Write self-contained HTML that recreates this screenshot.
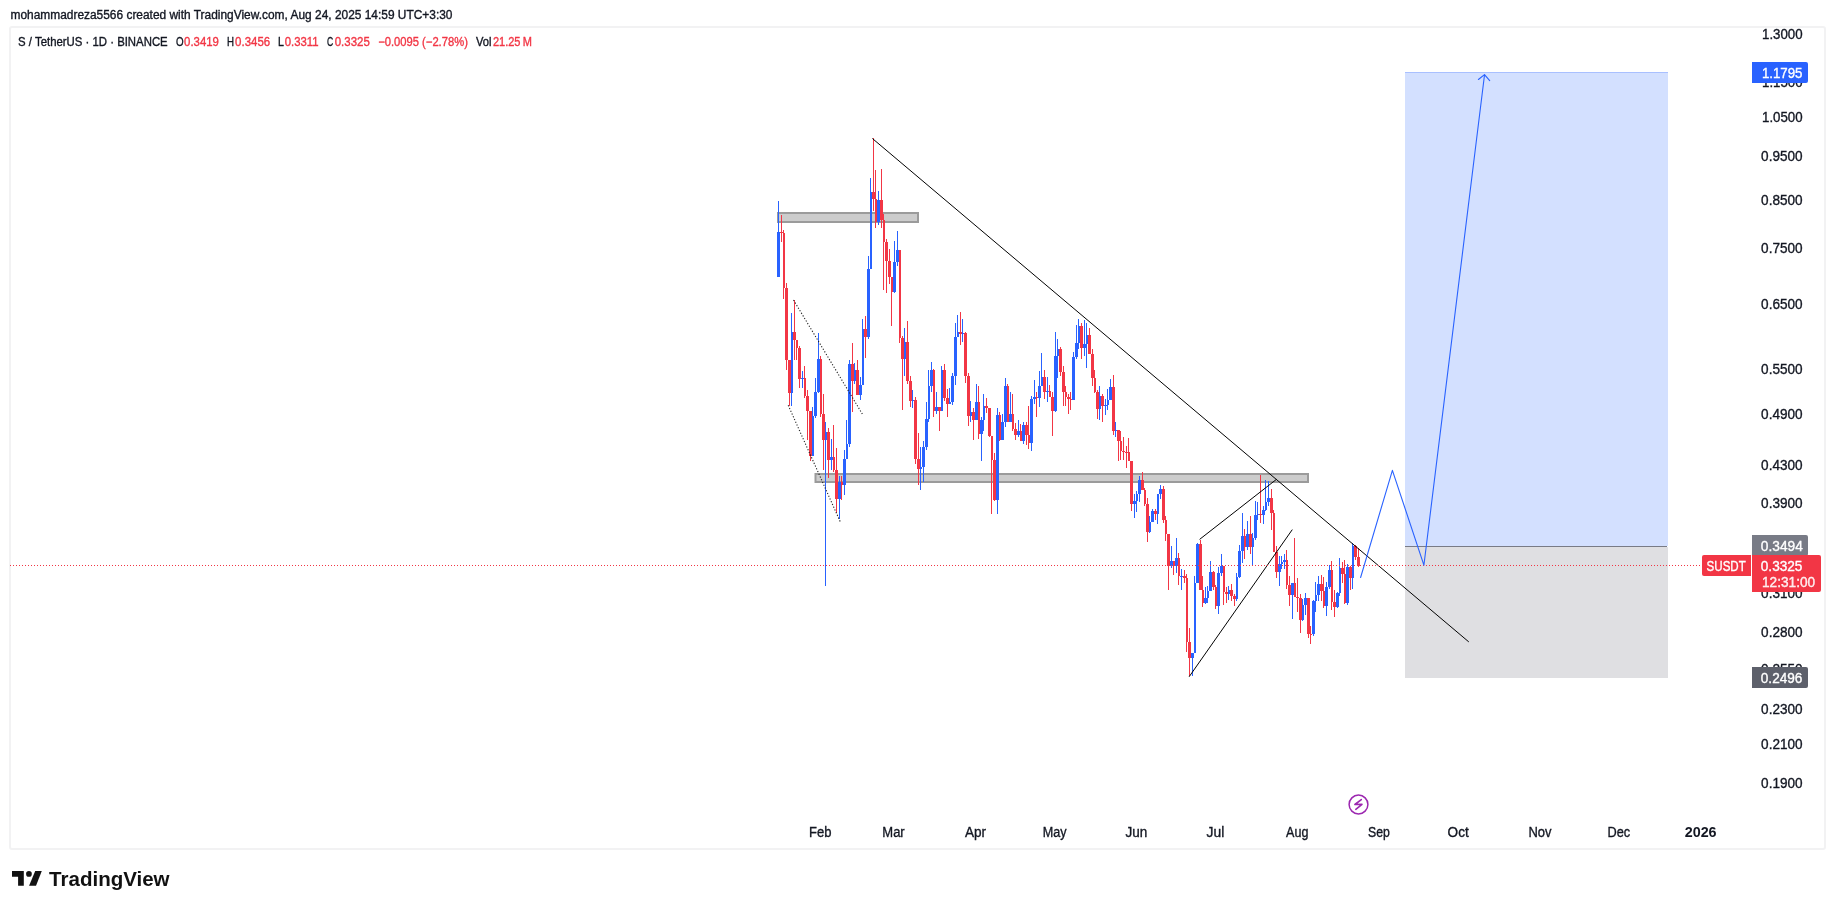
<!DOCTYPE html><html><head><meta charset="utf-8"><style>
html,body{margin:0;padding:0;background:#fff;width:1835px;height:909px;overflow:hidden}
svg{position:absolute;left:0;top:0;display:block;will-change:transform}
text{font-family:"Liberation Sans",sans-serif}
</style></head><body>
<svg width="1835" height="909" viewBox="0 0 1835 909">
<rect x="0" y="0" width="1835" height="909" fill="#ffffff"/>
<rect x="10" y="27" width="1815" height="822" rx="2" fill="none" stroke="#F2F2F3" stroke-width="2"/>
<text x="10.5" y="19" font-size="12" fill="#131722" textLength="442" lengthAdjust="spacingAndGlyphs" stroke="#131722" stroke-width="0.35">mohammadreza5566 created with TradingView.com, Aug 24, 2025 14:59 UTC+3:30</text>
<text x="18.1" y="46" font-size="12" fill="#131722" textLength="149.6" lengthAdjust="spacingAndGlyphs" stroke="#131722" stroke-width="0.35">S / TetherUS · 1D · BINANCE</text>
<text x="176.0" y="46" font-size="12" fill="#131722" textLength="7.6" lengthAdjust="spacingAndGlyphs" stroke="#131722" stroke-width="0.35">O</text>
<text x="184.1" y="46" font-size="12" fill="#F23645" textLength="34.8" lengthAdjust="spacingAndGlyphs" stroke="#F23645" stroke-width="0.35">0.3419</text>
<text x="227.0" y="46" font-size="12" fill="#131722" textLength="7.0" lengthAdjust="spacingAndGlyphs" stroke="#131722" stroke-width="0.35">H</text>
<text x="235.1" y="46" font-size="12" fill="#F23645" textLength="35.1" lengthAdjust="spacingAndGlyphs" stroke="#F23645" stroke-width="0.35">0.3456</text>
<text x="278.1" y="46" font-size="12" fill="#131722" textLength="5.9" lengthAdjust="spacingAndGlyphs" stroke="#131722" stroke-width="0.35">L</text>
<text x="284.7" y="46" font-size="12" fill="#F23645" textLength="33.9" lengthAdjust="spacingAndGlyphs" stroke="#F23645" stroke-width="0.35">0.3311</text>
<text x="327.1" y="46" font-size="12" fill="#131722" textLength="6.2" lengthAdjust="spacingAndGlyphs" stroke="#131722" stroke-width="0.35">C</text>
<text x="334.7" y="46" font-size="12" fill="#F23645" textLength="35.1" lengthAdjust="spacingAndGlyphs" stroke="#F23645" stroke-width="0.35">0.3325</text>
<text x="378.2" y="46" font-size="12" fill="#F23645" textLength="89.7" lengthAdjust="spacingAndGlyphs" stroke="#F23645" stroke-width="0.35">−0.0095 (−2.78%)</text>
<text x="476.0" y="46" font-size="12" fill="#131722" textLength="15.5" lengthAdjust="spacingAndGlyphs" stroke="#131722" stroke-width="0.35">Vol</text>
<text x="492.9" y="46" font-size="12" fill="#F23645" textLength="39.0" lengthAdjust="spacingAndGlyphs" stroke="#F23645" stroke-width="0.35">21.25 M</text>
<rect x="1405" y="72" width="263" height="474" fill="#D3E0FF"/>
<rect x="1405" y="72" width="263" height="1" fill="#A9C0FF"/>
<rect x="1405" y="547" width="263" height="131" fill="#DFDFE2"/>
<rect x="1405" y="546" width="262" height="1" fill="#787B86"/>
<rect x="778" y="213" width="140" height="9" fill="#CCCCCC" stroke="#9B9B9B" stroke-width="2"/>
<rect x="815.5" y="474" width="492.5" height="8" fill="#CCCCCC" stroke="#9B9B9B" stroke-width="2"/>
<g shape-rendering="crispEdges"><rect x="778" y="201" width="1" height="76" fill="#2962FF"/><rect x="777" y="232" width="3" height="45" fill="#2962FF"/><rect x="781" y="215" width="1" height="27" fill="#F23645"/><rect x="780" y="232" width="3" height="1" fill="#F23645"/><rect x="783" y="230" width="1" height="69" fill="#F23645"/><rect x="783" y="233" width="2" height="55" fill="#F23645"/><rect x="786" y="283" width="1" height="87" fill="#F23645"/><rect x="785" y="288" width="3" height="72" fill="#F23645"/><rect x="789" y="360" width="1" height="46" fill="#F23645"/><rect x="788" y="360" width="3" height="33" fill="#F23645"/><rect x="791" y="313" width="1" height="93" fill="#2962FF"/><rect x="791" y="332" width="2" height="61" fill="#2962FF"/><rect x="794" y="300" width="1" height="60" fill="#F23645"/><rect x="793" y="332" width="3" height="8" fill="#F23645"/><rect x="796" y="340" width="1" height="20" fill="#F23645"/><rect x="796" y="340" width="2" height="8" fill="#F23645"/><rect x="799" y="346" width="1" height="42" fill="#F23645"/><rect x="798" y="348" width="3" height="31" fill="#F23645"/><rect x="802" y="371" width="1" height="17" fill="#2962FF"/><rect x="801" y="378" width="3" height="1" fill="#2962FF"/><rect x="804" y="366" width="1" height="32" fill="#F23645"/><rect x="804" y="378" width="2" height="18" fill="#F23645"/><rect x="807" y="390" width="1" height="50" fill="#F23645"/><rect x="806" y="396" width="3" height="15" fill="#F23645"/><rect x="810" y="411" width="1" height="50" fill="#F23645"/><rect x="809" y="411" width="3" height="45" fill="#F23645"/><rect x="812" y="407" width="1" height="49" fill="#2962FF"/><rect x="812" y="416" width="2" height="40" fill="#2962FF"/><rect x="815" y="378" width="1" height="40" fill="#2962FF"/><rect x="814" y="392" width="3" height="24" fill="#2962FF"/><rect x="818" y="333" width="1" height="60" fill="#2962FF"/><rect x="817" y="359" width="3" height="33" fill="#2962FF"/><rect x="820" y="356" width="1" height="61" fill="#F23645"/><rect x="820" y="359" width="2" height="55" fill="#F23645"/><rect x="823" y="394" width="1" height="76" fill="#F23645"/><rect x="822" y="414" width="3" height="26" fill="#F23645"/><rect x="825" y="422" width="1" height="164" fill="#2962FF"/><rect x="825" y="432" width="2" height="8" fill="#2962FF"/><rect x="828" y="428" width="1" height="50" fill="#F23645"/><rect x="827" y="432" width="3" height="28" fill="#F23645"/><rect x="831" y="439" width="1" height="31" fill="#2962FF"/><rect x="830" y="457" width="3" height="3" fill="#2962FF"/><rect x="833" y="425" width="1" height="47" fill="#F23645"/><rect x="833" y="457" width="2" height="13" fill="#F23645"/><rect x="836" y="448" width="1" height="65" fill="#F23645"/><rect x="835" y="470" width="3" height="29" fill="#F23645"/><rect x="839" y="476" width="1" height="43" fill="#2962FF"/><rect x="838" y="482" width="3" height="17" fill="#2962FF"/><rect x="841" y="476" width="1" height="24" fill="#F23645"/><rect x="841" y="482" width="2" height="3" fill="#F23645"/><rect x="844" y="450" width="1" height="45" fill="#2962FF"/><rect x="843" y="459" width="3" height="26" fill="#2962FF"/><rect x="846" y="420" width="1" height="39" fill="#2962FF"/><rect x="846" y="444" width="2" height="15" fill="#2962FF"/><rect x="849" y="360" width="1" height="87" fill="#2962FF"/><rect x="848" y="364" width="3" height="80" fill="#2962FF"/><rect x="852" y="343" width="1" height="69" fill="#F23645"/><rect x="851" y="364" width="3" height="17" fill="#F23645"/><rect x="854" y="363" width="1" height="21" fill="#2962FF"/><rect x="854" y="370" width="2" height="11" fill="#2962FF"/><rect x="857" y="360" width="1" height="35" fill="#F23645"/><rect x="856" y="370" width="3" height="25" fill="#F23645"/><rect x="860" y="377" width="1" height="23" fill="#2962FF"/><rect x="859" y="385" width="3" height="10" fill="#2962FF"/><rect x="862" y="319" width="1" height="66" fill="#2962FF"/><rect x="862" y="329" width="2" height="56" fill="#2962FF"/><rect x="865" y="316" width="1" height="42" fill="#F23645"/><rect x="864" y="329" width="3" height="8" fill="#F23645"/><rect x="868" y="256" width="1" height="83" fill="#2962FF"/><rect x="867" y="269" width="3" height="68" fill="#2962FF"/><rect x="870" y="178" width="1" height="91" fill="#2962FF"/><rect x="870" y="192" width="2" height="77" fill="#2962FF"/><rect x="873" y="138" width="1" height="73" fill="#F23645"/><rect x="872" y="192" width="3" height="7" fill="#F23645"/><rect x="875" y="170" width="1" height="58" fill="#F23645"/><rect x="875" y="199" width="2" height="23" fill="#F23645"/><rect x="878" y="191" width="1" height="34" fill="#2962FF"/><rect x="877" y="200" width="3" height="22" fill="#2962FF"/><rect x="881" y="169" width="1" height="59" fill="#F23645"/><rect x="880" y="200" width="3" height="20" fill="#F23645"/><rect x="883" y="214" width="1" height="76" fill="#F23645"/><rect x="883" y="220" width="2" height="22" fill="#F23645"/><rect x="886" y="239" width="1" height="54" fill="#F23645"/><rect x="885" y="242" width="3" height="19" fill="#F23645"/><rect x="889" y="249" width="1" height="35" fill="#F23645"/><rect x="888" y="261" width="3" height="16" fill="#F23645"/><rect x="891" y="277" width="1" height="49" fill="#F23645"/><rect x="891" y="277" width="2" height="15" fill="#F23645"/><rect x="894" y="241" width="1" height="52" fill="#2962FF"/><rect x="893" y="262" width="3" height="30" fill="#2962FF"/><rect x="897" y="231" width="1" height="35" fill="#2962FF"/><rect x="896" y="250" width="3" height="12" fill="#2962FF"/><rect x="899" y="250" width="1" height="93" fill="#F23645"/><rect x="899" y="250" width="2" height="88" fill="#F23645"/><rect x="902" y="336" width="1" height="74" fill="#F23645"/><rect x="901" y="338" width="3" height="21" fill="#F23645"/><rect x="904" y="328" width="1" height="48" fill="#2962FF"/><rect x="904" y="342" width="2" height="17" fill="#2962FF"/><rect x="907" y="321" width="1" height="63" fill="#F23645"/><rect x="906" y="342" width="3" height="39" fill="#F23645"/><rect x="910" y="376" width="1" height="31" fill="#F23645"/><rect x="909" y="381" width="3" height="20" fill="#F23645"/><rect x="912" y="390" width="1" height="18" fill="#2962FF"/><rect x="912" y="400" width="2" height="1" fill="#2962FF"/><rect x="915" y="397" width="1" height="67" fill="#F23645"/><rect x="914" y="400" width="3" height="59" fill="#F23645"/><rect x="918" y="433" width="1" height="52" fill="#F23645"/><rect x="917" y="459" width="3" height="10" fill="#F23645"/><rect x="920" y="447" width="1" height="43" fill="#2962FF"/><rect x="920" y="467" width="2" height="2" fill="#2962FF"/><rect x="923" y="441" width="1" height="41" fill="#2962FF"/><rect x="922" y="447" width="3" height="20" fill="#2962FF"/><rect x="926" y="402" width="1" height="48" fill="#2962FF"/><rect x="925" y="419" width="3" height="28" fill="#2962FF"/><rect x="928" y="370" width="1" height="52" fill="#2962FF"/><rect x="928" y="386" width="2" height="33" fill="#2962FF"/><rect x="931" y="362" width="1" height="30" fill="#2962FF"/><rect x="930" y="370" width="3" height="16" fill="#2962FF"/><rect x="933" y="369" width="1" height="48" fill="#F23645"/><rect x="933" y="370" width="2" height="41" fill="#F23645"/><rect x="936" y="392" width="1" height="22" fill="#2962FF"/><rect x="935" y="407" width="3" height="4" fill="#2962FF"/><rect x="939" y="407" width="1" height="24" fill="#F23645"/><rect x="938" y="407" width="3" height="4" fill="#F23645"/><rect x="941" y="366" width="1" height="45" fill="#2962FF"/><rect x="941" y="370" width="2" height="41" fill="#2962FF"/><rect x="944" y="364" width="1" height="37" fill="#F23645"/><rect x="943" y="370" width="3" height="28" fill="#F23645"/><rect x="947" y="389" width="1" height="28" fill="#F23645"/><rect x="946" y="398" width="3" height="6" fill="#F23645"/><rect x="949" y="388" width="1" height="16" fill="#2962FF"/><rect x="949" y="402" width="2" height="2" fill="#2962FF"/><rect x="952" y="373" width="1" height="32" fill="#2962FF"/><rect x="951" y="376" width="3" height="26" fill="#2962FF"/><rect x="955" y="323" width="1" height="62" fill="#2962FF"/><rect x="954" y="337" width="3" height="39" fill="#2962FF"/><rect x="957" y="315" width="1" height="22" fill="#2962FF"/><rect x="957" y="332" width="2" height="5" fill="#2962FF"/><rect x="960" y="312" width="1" height="33" fill="#F23645"/><rect x="959" y="332" width="3" height="2" fill="#F23645"/><rect x="962" y="319" width="1" height="23" fill="#2962FF"/><rect x="962" y="333" width="2" height="1" fill="#2962FF"/><rect x="965" y="332" width="1" height="51" fill="#F23645"/><rect x="964" y="333" width="3" height="43" fill="#F23645"/><rect x="968" y="373" width="1" height="53" fill="#F23645"/><rect x="967" y="376" width="3" height="40" fill="#F23645"/><rect x="970" y="401" width="1" height="21" fill="#2962FF"/><rect x="970" y="412" width="2" height="4" fill="#2962FF"/><rect x="973" y="408" width="1" height="32" fill="#F23645"/><rect x="972" y="412" width="3" height="8" fill="#F23645"/><rect x="976" y="384" width="1" height="36" fill="#2962FF"/><rect x="975" y="402" width="3" height="18" fill="#2962FF"/><rect x="978" y="386" width="1" height="53" fill="#F23645"/><rect x="978" y="402" width="2" height="32" fill="#F23645"/><rect x="981" y="417" width="1" height="44" fill="#2962FF"/><rect x="980" y="420" width="3" height="14" fill="#2962FF"/><rect x="983" y="394" width="1" height="37" fill="#2962FF"/><rect x="983" y="406" width="2" height="14" fill="#2962FF"/><rect x="986" y="398" width="1" height="15" fill="#F23645"/><rect x="985" y="406" width="3" height="2" fill="#F23645"/><rect x="989" y="408" width="1" height="29" fill="#F23645"/><rect x="988" y="408" width="3" height="28" fill="#F23645"/><rect x="991" y="436" width="1" height="78" fill="#F23645"/><rect x="991" y="436" width="2" height="24" fill="#F23645"/><rect x="994" y="453" width="1" height="48" fill="#F23645"/><rect x="993" y="460" width="3" height="40" fill="#F23645"/><rect x="997" y="408" width="1" height="106" fill="#2962FF"/><rect x="996" y="415" width="3" height="85" fill="#2962FF"/><rect x="999" y="412" width="1" height="29" fill="#F23645"/><rect x="999" y="415" width="2" height="25" fill="#F23645"/><rect x="1002" y="414" width="1" height="26" fill="#2962FF"/><rect x="1001" y="422" width="3" height="18" fill="#2962FF"/><rect x="1005" y="378" width="1" height="49" fill="#2962FF"/><rect x="1004" y="386" width="3" height="36" fill="#2962FF"/><rect x="1007" y="384" width="1" height="38" fill="#F23645"/><rect x="1007" y="386" width="2" height="36" fill="#F23645"/><rect x="1010" y="392" width="1" height="30" fill="#2962FF"/><rect x="1009" y="414" width="3" height="8" fill="#2962FF"/><rect x="1012" y="394" width="1" height="37" fill="#F23645"/><rect x="1012" y="414" width="2" height="15" fill="#F23645"/><rect x="1015" y="423" width="1" height="17" fill="#F23645"/><rect x="1014" y="429" width="3" height="6" fill="#F23645"/><rect x="1018" y="420" width="1" height="17" fill="#2962FF"/><rect x="1017" y="431" width="3" height="4" fill="#2962FF"/><rect x="1020" y="424" width="1" height="17" fill="#F23645"/><rect x="1020" y="431" width="2" height="10" fill="#F23645"/><rect x="1023" y="422" width="1" height="22" fill="#2962FF"/><rect x="1022" y="425" width="3" height="16" fill="#2962FF"/><rect x="1026" y="422" width="1" height="23" fill="#F23645"/><rect x="1025" y="425" width="3" height="10" fill="#F23645"/><rect x="1028" y="406" width="1" height="43" fill="#F23645"/><rect x="1028" y="435" width="2" height="8" fill="#F23645"/><rect x="1031" y="396" width="1" height="55" fill="#2962FF"/><rect x="1030" y="399" width="3" height="44" fill="#2962FF"/><rect x="1034" y="380" width="1" height="24" fill="#2962FF"/><rect x="1033" y="397" width="3" height="2" fill="#2962FF"/><rect x="1036" y="392" width="1" height="25" fill="#F23645"/><rect x="1036" y="397" width="2" height="1" fill="#F23645"/><rect x="1039" y="371" width="1" height="36" fill="#2962FF"/><rect x="1038" y="386" width="3" height="12" fill="#2962FF"/><rect x="1041" y="353" width="1" height="33" fill="#2962FF"/><rect x="1041" y="377" width="2" height="9" fill="#2962FF"/><rect x="1044" y="370" width="1" height="29" fill="#F23645"/><rect x="1043" y="377" width="3" height="15" fill="#F23645"/><rect x="1047" y="377" width="1" height="25" fill="#2962FF"/><rect x="1046" y="391" width="3" height="1" fill="#2962FF"/><rect x="1049" y="385" width="1" height="12" fill="#F23645"/><rect x="1049" y="391" width="2" height="6" fill="#F23645"/><rect x="1052" y="392" width="1" height="44" fill="#F23645"/><rect x="1051" y="397" width="3" height="14" fill="#F23645"/><rect x="1055" y="332" width="1" height="80" fill="#2962FF"/><rect x="1054" y="356" width="3" height="55" fill="#2962FF"/><rect x="1057" y="339" width="1" height="39" fill="#2962FF"/><rect x="1057" y="349" width="2" height="7" fill="#2962FF"/><rect x="1060" y="347" width="1" height="29" fill="#F23645"/><rect x="1059" y="349" width="3" height="23" fill="#F23645"/><rect x="1063" y="366" width="1" height="40" fill="#F23645"/><rect x="1062" y="372" width="3" height="20" fill="#F23645"/><rect x="1065" y="386" width="1" height="20" fill="#F23645"/><rect x="1065" y="392" width="2" height="5" fill="#F23645"/><rect x="1068" y="394" width="1" height="20" fill="#F23645"/><rect x="1067" y="397" width="3" height="2" fill="#F23645"/><rect x="1070" y="392" width="1" height="18" fill="#F23645"/><rect x="1070" y="399" width="2" height="1" fill="#F23645"/><rect x="1073" y="352" width="1" height="48" fill="#2962FF"/><rect x="1072" y="357" width="3" height="43" fill="#2962FF"/><rect x="1076" y="325" width="1" height="34" fill="#2962FF"/><rect x="1075" y="343" width="3" height="14" fill="#2962FF"/><rect x="1078" y="319" width="1" height="30" fill="#2962FF"/><rect x="1078" y="326" width="2" height="17" fill="#2962FF"/><rect x="1081" y="323" width="1" height="36" fill="#F23645"/><rect x="1080" y="326" width="3" height="22" fill="#F23645"/><rect x="1084" y="320" width="1" height="36" fill="#2962FF"/><rect x="1083" y="344" width="3" height="4" fill="#2962FF"/><rect x="1086" y="323" width="1" height="45" fill="#2962FF"/><rect x="1086" y="335" width="2" height="9" fill="#2962FF"/><rect x="1089" y="328" width="1" height="26" fill="#F23645"/><rect x="1088" y="335" width="3" height="19" fill="#F23645"/><rect x="1092" y="349" width="1" height="37" fill="#F23645"/><rect x="1091" y="354" width="3" height="24" fill="#F23645"/><rect x="1094" y="370" width="1" height="23" fill="#F23645"/><rect x="1094" y="378" width="2" height="14" fill="#F23645"/><rect x="1097" y="390" width="1" height="29" fill="#F23645"/><rect x="1096" y="392" width="3" height="17" fill="#F23645"/><rect x="1099" y="386" width="1" height="34" fill="#2962FF"/><rect x="1099" y="396" width="2" height="13" fill="#2962FF"/><rect x="1102" y="394" width="1" height="28" fill="#F23645"/><rect x="1101" y="396" width="3" height="10" fill="#F23645"/><rect x="1105" y="399" width="1" height="16" fill="#2962FF"/><rect x="1104" y="405" width="3" height="1" fill="#2962FF"/><rect x="1107" y="389" width="1" height="21" fill="#2962FF"/><rect x="1107" y="400" width="2" height="5" fill="#2962FF"/><rect x="1110" y="379" width="1" height="21" fill="#2962FF"/><rect x="1109" y="387" width="3" height="13" fill="#2962FF"/><rect x="1113" y="375" width="1" height="60" fill="#F23645"/><rect x="1112" y="387" width="3" height="44" fill="#F23645"/><rect x="1115" y="422" width="1" height="15" fill="#2962FF"/><rect x="1115" y="430" width="2" height="1" fill="#2962FF"/><rect x="1118" y="430" width="1" height="31" fill="#F23645"/><rect x="1117" y="430" width="3" height="11" fill="#F23645"/><rect x="1120" y="431" width="1" height="29" fill="#F23645"/><rect x="1120" y="441" width="2" height="10" fill="#F23645"/><rect x="1123" y="437" width="1" height="23" fill="#F23645"/><rect x="1122" y="451" width="3" height="1" fill="#F23645"/><rect x="1126" y="446" width="1" height="22" fill="#F23645"/><rect x="1125" y="452" width="3" height="1" fill="#F23645"/><rect x="1128" y="438" width="1" height="23" fill="#F23645"/><rect x="1128" y="452" width="2" height="9" fill="#F23645"/><rect x="1131" y="461" width="1" height="50" fill="#F23645"/><rect x="1130" y="461" width="3" height="43" fill="#F23645"/><rect x="1134" y="494" width="1" height="24" fill="#2962FF"/><rect x="1133" y="501" width="3" height="3" fill="#2962FF"/><rect x="1136" y="491" width="1" height="21" fill="#2962FF"/><rect x="1136" y="494" width="2" height="7" fill="#2962FF"/><rect x="1139" y="476" width="1" height="26" fill="#2962FF"/><rect x="1138" y="480" width="3" height="14" fill="#2962FF"/><rect x="1142" y="472" width="1" height="18" fill="#F23645"/><rect x="1141" y="480" width="3" height="10" fill="#F23645"/><rect x="1144" y="488" width="1" height="18" fill="#F23645"/><rect x="1144" y="490" width="2" height="14" fill="#F23645"/><rect x="1147" y="498" width="1" height="44" fill="#F23645"/><rect x="1146" y="504" width="3" height="28" fill="#F23645"/><rect x="1149" y="516" width="1" height="17" fill="#2962FF"/><rect x="1149" y="522" width="2" height="10" fill="#2962FF"/><rect x="1152" y="509" width="1" height="13" fill="#2962FF"/><rect x="1151" y="511" width="3" height="11" fill="#2962FF"/><rect x="1155" y="509" width="1" height="11" fill="#F23645"/><rect x="1154" y="511" width="3" height="3" fill="#F23645"/><rect x="1157" y="494" width="1" height="30" fill="#2962FF"/><rect x="1157" y="494" width="2" height="20" fill="#2962FF"/><rect x="1160" y="485" width="1" height="14" fill="#2962FF"/><rect x="1159" y="489" width="3" height="5" fill="#2962FF"/><rect x="1163" y="486" width="1" height="37" fill="#F23645"/><rect x="1162" y="489" width="3" height="31" fill="#F23645"/><rect x="1165" y="516" width="1" height="25" fill="#F23645"/><rect x="1165" y="520" width="2" height="14" fill="#F23645"/><rect x="1168" y="534" width="1" height="56" fill="#F23645"/><rect x="1167" y="534" width="3" height="32" fill="#F23645"/><rect x="1171" y="546" width="1" height="22" fill="#2962FF"/><rect x="1170" y="561" width="3" height="5" fill="#2962FF"/><rect x="1173" y="561" width="1" height="14" fill="#F23645"/><rect x="1173" y="561" width="2" height="5" fill="#F23645"/><rect x="1176" y="538" width="1" height="35" fill="#2962FF"/><rect x="1175" y="558" width="3" height="8" fill="#2962FF"/><rect x="1178" y="553" width="1" height="32" fill="#F23645"/><rect x="1178" y="558" width="2" height="18" fill="#F23645"/><rect x="1181" y="569" width="1" height="21" fill="#2962FF"/><rect x="1180" y="576" width="3" height="1" fill="#2962FF"/><rect x="1184" y="570" width="1" height="13" fill="#F23645"/><rect x="1183" y="576" width="3" height="2" fill="#F23645"/><rect x="1186" y="574" width="1" height="78" fill="#F23645"/><rect x="1186" y="578" width="2" height="64" fill="#F23645"/><rect x="1189" y="628" width="1" height="48" fill="#F23645"/><rect x="1188" y="642" width="3" height="16" fill="#F23645"/><rect x="1192" y="653" width="1" height="23" fill="#2962FF"/><rect x="1191" y="653" width="3" height="5" fill="#2962FF"/><rect x="1194" y="576" width="1" height="77" fill="#2962FF"/><rect x="1194" y="583" width="2" height="70" fill="#2962FF"/><rect x="1197" y="543" width="1" height="40" fill="#2962FF"/><rect x="1196" y="544" width="3" height="39" fill="#2962FF"/><rect x="1200" y="540" width="1" height="50" fill="#F23645"/><rect x="1199" y="544" width="3" height="46" fill="#F23645"/><rect x="1202" y="576" width="1" height="31" fill="#F23645"/><rect x="1202" y="590" width="2" height="13" fill="#F23645"/><rect x="1205" y="587" width="1" height="17" fill="#2962FF"/><rect x="1204" y="598" width="3" height="5" fill="#2962FF"/><rect x="1207" y="586" width="1" height="17" fill="#2962FF"/><rect x="1207" y="591" width="2" height="7" fill="#2962FF"/><rect x="1210" y="561" width="1" height="30" fill="#2962FF"/><rect x="1209" y="572" width="3" height="19" fill="#2962FF"/><rect x="1213" y="571" width="1" height="19" fill="#F23645"/><rect x="1212" y="572" width="3" height="15" fill="#F23645"/><rect x="1215" y="585" width="1" height="24" fill="#F23645"/><rect x="1215" y="587" width="2" height="19" fill="#F23645"/><rect x="1218" y="567" width="1" height="47" fill="#2962FF"/><rect x="1217" y="573" width="3" height="33" fill="#2962FF"/><rect x="1221" y="554" width="1" height="22" fill="#2962FF"/><rect x="1220" y="566" width="3" height="7" fill="#2962FF"/><rect x="1223" y="566" width="1" height="39" fill="#F23645"/><rect x="1223" y="566" width="2" height="26" fill="#F23645"/><rect x="1226" y="587" width="1" height="16" fill="#F23645"/><rect x="1225" y="592" width="3" height="2" fill="#F23645"/><rect x="1228" y="586" width="1" height="14" fill="#2962FF"/><rect x="1228" y="590" width="2" height="4" fill="#2962FF"/><rect x="1231" y="584" width="1" height="17" fill="#F23645"/><rect x="1230" y="590" width="3" height="6" fill="#F23645"/><rect x="1234" y="594" width="1" height="12" fill="#F23645"/><rect x="1233" y="596" width="3" height="3" fill="#F23645"/><rect x="1236" y="573" width="1" height="28" fill="#2962FF"/><rect x="1236" y="577" width="2" height="22" fill="#2962FF"/><rect x="1239" y="545" width="1" height="33" fill="#2962FF"/><rect x="1238" y="551" width="3" height="26" fill="#2962FF"/><rect x="1242" y="513" width="1" height="50" fill="#2962FF"/><rect x="1241" y="536" width="3" height="15" fill="#2962FF"/><rect x="1244" y="529" width="1" height="30" fill="#F23645"/><rect x="1244" y="536" width="2" height="11" fill="#F23645"/><rect x="1247" y="521" width="1" height="29" fill="#2962FF"/><rect x="1246" y="534" width="3" height="13" fill="#2962FF"/><rect x="1250" y="516" width="1" height="38" fill="#F23645"/><rect x="1249" y="534" width="3" height="13" fill="#F23645"/><rect x="1252" y="533" width="1" height="32" fill="#2962FF"/><rect x="1252" y="538" width="2" height="9" fill="#2962FF"/><rect x="1255" y="501" width="1" height="39" fill="#2962FF"/><rect x="1254" y="515" width="3" height="23" fill="#2962FF"/><rect x="1257" y="502" width="1" height="18" fill="#2962FF"/><rect x="1257" y="514" width="2" height="1" fill="#2962FF"/><rect x="1260" y="475" width="1" height="48" fill="#F23645"/><rect x="1259" y="514" width="3" height="1" fill="#F23645"/><rect x="1263" y="506" width="1" height="18" fill="#2962FF"/><rect x="1262" y="510" width="3" height="5" fill="#2962FF"/><rect x="1265" y="480" width="1" height="31" fill="#2962FF"/><rect x="1265" y="502" width="2" height="8" fill="#2962FF"/><rect x="1268" y="481" width="1" height="25" fill="#2962FF"/><rect x="1267" y="498" width="3" height="4" fill="#2962FF"/><rect x="1271" y="489" width="1" height="41" fill="#F23645"/><rect x="1270" y="498" width="3" height="15" fill="#F23645"/><rect x="1273" y="510" width="1" height="42" fill="#F23645"/><rect x="1273" y="513" width="2" height="39" fill="#F23645"/><rect x="1276" y="546" width="1" height="32" fill="#F23645"/><rect x="1275" y="552" width="3" height="20" fill="#F23645"/><rect x="1279" y="556" width="1" height="30" fill="#2962FF"/><rect x="1278" y="564" width="3" height="8" fill="#2962FF"/><rect x="1281" y="556" width="1" height="13" fill="#2962FF"/><rect x="1281" y="562" width="2" height="2" fill="#2962FF"/><rect x="1284" y="554" width="1" height="15" fill="#2962FF"/><rect x="1283" y="560" width="3" height="2" fill="#2962FF"/><rect x="1286" y="550" width="1" height="39" fill="#F23645"/><rect x="1286" y="560" width="2" height="25" fill="#F23645"/><rect x="1289" y="576" width="1" height="30" fill="#F23645"/><rect x="1288" y="585" width="3" height="10" fill="#F23645"/><rect x="1292" y="583" width="1" height="36" fill="#2962FF"/><rect x="1291" y="583" width="3" height="12" fill="#2962FF"/><rect x="1294" y="538" width="1" height="59" fill="#F23645"/><rect x="1294" y="583" width="2" height="14" fill="#F23645"/><rect x="1297" y="578" width="1" height="34" fill="#F23645"/><rect x="1296" y="597" width="3" height="1" fill="#F23645"/><rect x="1300" y="594" width="1" height="39" fill="#F23645"/><rect x="1299" y="598" width="3" height="22" fill="#F23645"/><rect x="1302" y="599" width="1" height="22" fill="#2962FF"/><rect x="1302" y="605" width="2" height="15" fill="#2962FF"/><rect x="1305" y="593" width="1" height="22" fill="#2962FF"/><rect x="1304" y="598" width="3" height="7" fill="#2962FF"/><rect x="1308" y="598" width="1" height="40" fill="#F23645"/><rect x="1307" y="598" width="3" height="36" fill="#F23645"/><rect x="1310" y="626" width="1" height="18" fill="#F23645"/><rect x="1310" y="634" width="2" height="1" fill="#F23645"/><rect x="1313" y="600" width="1" height="36" fill="#2962FF"/><rect x="1312" y="601" width="3" height="33" fill="#2962FF"/><rect x="1315" y="582" width="1" height="30" fill="#2962FF"/><rect x="1315" y="595" width="2" height="6" fill="#2962FF"/><rect x="1318" y="576" width="1" height="25" fill="#2962FF"/><rect x="1317" y="584" width="3" height="11" fill="#2962FF"/><rect x="1321" y="575" width="1" height="26" fill="#F23645"/><rect x="1320" y="584" width="3" height="7" fill="#F23645"/><rect x="1323" y="577" width="1" height="31" fill="#F23645"/><rect x="1323" y="591" width="2" height="15" fill="#F23645"/><rect x="1326" y="582" width="1" height="34" fill="#2962FF"/><rect x="1325" y="587" width="3" height="19" fill="#2962FF"/><rect x="1329" y="565" width="1" height="24" fill="#2962FF"/><rect x="1328" y="570" width="3" height="17" fill="#2962FF"/><rect x="1331" y="561" width="1" height="49" fill="#F23645"/><rect x="1331" y="570" width="2" height="32" fill="#F23645"/><rect x="1334" y="590" width="1" height="27" fill="#F23645"/><rect x="1333" y="602" width="3" height="5" fill="#F23645"/><rect x="1337" y="592" width="1" height="16" fill="#2962FF"/><rect x="1336" y="593" width="3" height="14" fill="#2962FF"/><rect x="1339" y="558" width="1" height="38" fill="#2962FF"/><rect x="1339" y="568" width="2" height="25" fill="#2962FF"/><rect x="1342" y="562" width="1" height="21" fill="#F23645"/><rect x="1341" y="568" width="3" height="6" fill="#F23645"/><rect x="1344" y="560" width="1" height="44" fill="#F23645"/><rect x="1344" y="574" width="2" height="29" fill="#F23645"/><rect x="1347" y="564" width="1" height="41" fill="#2962FF"/><rect x="1346" y="567" width="3" height="36" fill="#2962FF"/><rect x="1350" y="566" width="1" height="24" fill="#F23645"/><rect x="1349" y="567" width="3" height="11" fill="#F23645"/><rect x="1352" y="543" width="1" height="46" fill="#2962FF"/><rect x="1352" y="546" width="2" height="32" fill="#2962FF"/><rect x="1355" y="545" width="1" height="15" fill="#F23645"/><rect x="1354" y="546" width="3" height="11" fill="#F23645"/><rect x="1358" y="548" width="1" height="19" fill="#F23645"/><rect x="1357" y="557" width="3" height="9" fill="#F23645"/></g>
<line x1="793.5" y1="300" x2="862.7" y2="414.6" stroke="#222" stroke-width="1.1" stroke-dasharray="1.2 1.8"/>
<line x1="788.2" y1="405.3" x2="840.2" y2="521.6" stroke="#222" stroke-width="1.1" stroke-dasharray="1.2 1.8"/>
<line x1="872.4" y1="138.5" x2="1468.8" y2="641.9" stroke="#000" stroke-width="1"/>
<line x1="1189.1" y1="676.8" x2="1292.3" y2="529.6" stroke="#000" stroke-width="1"/>
<line x1="1199.6" y1="539.4" x2="1276.4" y2="479.4" stroke="#000" stroke-width="1"/>
<line x1="10" y1="565.5" x2="1702" y2="565.5" stroke="#F23645" stroke-width="1" stroke-dasharray="1 2" shape-rendering="crispEdges"/>
<polyline points="1360.6,577.5 1392.4,470.3 1423.9,565.2 1484.5,75" fill="none" stroke="#2962FF" stroke-width="1.1" stroke-linejoin="round" stroke-linecap="round"/>
<polyline points="1478.4,79.5 1484.5,74.6 1489.7,80.6" fill="none" stroke="#2962FF" stroke-width="1.1" stroke-linejoin="round" stroke-linecap="round"/>
<text x="1762.0" y="39.1" font-size="14" fill="#131722" textLength="40.6" lengthAdjust="spacingAndGlyphs" stroke="#131722" stroke-width="0.35">1.3000</text>
<text x="1762.0" y="86.9" font-size="14" fill="#131722" textLength="40.6" lengthAdjust="spacingAndGlyphs" stroke="#131722" stroke-width="0.35">1.1500</text>
<text x="1762.0" y="122.3" font-size="14" fill="#131722" textLength="40.6" lengthAdjust="spacingAndGlyphs" stroke="#131722" stroke-width="0.35">1.0500</text>
<text x="1761.1" y="161.3" font-size="14" fill="#131722" textLength="41.5" lengthAdjust="spacingAndGlyphs" stroke="#131722" stroke-width="0.35">0.9500</text>
<text x="1761.1" y="204.6" font-size="14" fill="#131722" textLength="41.5" lengthAdjust="spacingAndGlyphs" stroke="#131722" stroke-width="0.35">0.8500</text>
<text x="1761.1" y="253.4" font-size="14" fill="#131722" textLength="41.5" lengthAdjust="spacingAndGlyphs" stroke="#131722" stroke-width="0.35">0.7500</text>
<text x="1761.1" y="309.1" font-size="14" fill="#131722" textLength="41.5" lengthAdjust="spacingAndGlyphs" stroke="#131722" stroke-width="0.35">0.6500</text>
<text x="1761.1" y="374.2" font-size="14" fill="#131722" textLength="41.5" lengthAdjust="spacingAndGlyphs" stroke="#131722" stroke-width="0.35">0.5500</text>
<text x="1761.1" y="419.1" font-size="14" fill="#131722" textLength="41.5" lengthAdjust="spacingAndGlyphs" stroke="#131722" stroke-width="0.35">0.4900</text>
<text x="1761.1" y="470.0" font-size="14" fill="#131722" textLength="41.5" lengthAdjust="spacingAndGlyphs" stroke="#131722" stroke-width="0.35">0.4300</text>
<text x="1761.1" y="508.1" font-size="14" fill="#131722" textLength="41.5" lengthAdjust="spacingAndGlyphs" stroke="#131722" stroke-width="0.35">0.3900</text>
<text x="1761.1" y="597.5" font-size="14" fill="#131722" textLength="41.5" lengthAdjust="spacingAndGlyphs" stroke="#131722" stroke-width="0.35">0.3100</text>
<text x="1761.1" y="637.1" font-size="14" fill="#131722" textLength="41.5" lengthAdjust="spacingAndGlyphs" stroke="#131722" stroke-width="0.35">0.2800</text>
<text x="1761.1" y="673.5" font-size="14" fill="#131722" textLength="41.5" lengthAdjust="spacingAndGlyphs" stroke="#131722" stroke-width="0.35">0.2550</text>
<text x="1761.1" y="713.7" font-size="14" fill="#131722" textLength="41.5" lengthAdjust="spacingAndGlyphs" stroke="#131722" stroke-width="0.35">0.2300</text>
<text x="1761.1" y="749.2" font-size="14" fill="#131722" textLength="41.5" lengthAdjust="spacingAndGlyphs" stroke="#131722" stroke-width="0.35">0.2100</text>
<text x="1761.1" y="788.2" font-size="14" fill="#131722" textLength="41.5" lengthAdjust="spacingAndGlyphs" stroke="#131722" stroke-width="0.35">0.1900</text>
<path d="M1752,62 H1806 Q1808,62 1808,64 V81 Q1808,83 1806,83 H1752 Z" fill="#2962FF"/>
<text x="1761.9" y="78" font-size="14" fill="#fff" textLength="40.6" lengthAdjust="spacingAndGlyphs" stroke="#fff" stroke-width="0.35">1.1795</text>
<path d="M1752,535 H1806 Q1808,535 1808,537 V554 Q1808,556 1806,556 H1752 Z" fill="#787B86"/>
<text x="1760.8" y="551" font-size="14" fill="#fff" textLength="42" lengthAdjust="spacingAndGlyphs" stroke="#fff" stroke-width="0.35">0.3494</text>
<path d="M1752,667 H1806 Q1808,667 1808,669 V686 Q1808,688 1806,688 H1752 Z" fill="#5D606B"/>
<text x="1760.8" y="683" font-size="14" fill="#fff" textLength="41.6" lengthAdjust="spacingAndGlyphs" stroke="#fff" stroke-width="0.35">0.2496</text>
<path d="M1752,555 H1819 Q1821,555 1821,557 V590 Q1821,592 1819,592 H1752 Z" fill="#F23645"/>
<text x="1760.8" y="571" font-size="14" fill="#fff" textLength="41.6" lengthAdjust="spacingAndGlyphs" stroke="#fff" stroke-width="0.35">0.3325</text>
<text x="1762" y="587" font-size="14" fill="#fff" fill-opacity="0.88" textLength="53.1" lengthAdjust="spacingAndGlyphs" stroke="#fff" stroke-width="0.35">12:31:00</text>
<path d="M1704,555 H1751 V576 H1704 Q1702,576 1702,574 V557 Q1702,555 1704,555 Z" fill="#F23645"/>
<text x="1706.6" y="571" font-size="14" fill="#fff" textLength="39.2" lengthAdjust="spacingAndGlyphs" stroke="#fff" stroke-width="0.35">SUSDT</text>
<text x="809.1" y="837" font-size="14" fill="#131722" textLength="22.4" lengthAdjust="spacingAndGlyphs" stroke="#131722" stroke-width="0.35">Feb</text>
<text x="882.3" y="837" font-size="14" fill="#131722" textLength="22.4" lengthAdjust="spacingAndGlyphs" stroke="#131722" stroke-width="0.35">Mar</text>
<text x="964.9" y="837" font-size="14" fill="#131722" textLength="21.1" lengthAdjust="spacingAndGlyphs" stroke="#131722" stroke-width="0.35">Apr</text>
<text x="1042.8" y="837" font-size="14" fill="#131722" textLength="23.8" lengthAdjust="spacingAndGlyphs" stroke="#131722" stroke-width="0.35">May</text>
<text x="1125.6" y="837" font-size="14" fill="#131722" textLength="21.8" lengthAdjust="spacingAndGlyphs" stroke="#131722" stroke-width="0.35">Jun</text>
<text x="1206.6" y="837" font-size="14" fill="#131722" textLength="17.7" lengthAdjust="spacingAndGlyphs" stroke="#131722" stroke-width="0.35">Jul</text>
<text x="1286.1" y="837" font-size="14" fill="#131722" textLength="22.3" lengthAdjust="spacingAndGlyphs" stroke="#131722" stroke-width="0.35">Aug</text>
<text x="1368.0" y="837" font-size="14" fill="#131722" textLength="21.8" lengthAdjust="spacingAndGlyphs" stroke="#131722" stroke-width="0.35">Sep</text>
<text x="1447.6" y="837" font-size="14" fill="#131722" textLength="21.1" lengthAdjust="spacingAndGlyphs" stroke="#131722" stroke-width="0.35">Oct</text>
<text x="1528.4" y="837" font-size="14" fill="#131722" textLength="23.1" lengthAdjust="spacingAndGlyphs" stroke="#131722" stroke-width="0.35">Nov</text>
<text x="1607.5" y="837" font-size="14" fill="#131722" textLength="22.7" lengthAdjust="spacingAndGlyphs" stroke="#131722" stroke-width="0.35">Dec</text>
<text x="1684.7" y="837" font-size="14" fill="#131722" textLength="31.9" lengthAdjust="spacingAndGlyphs" font-weight="bold">2026</text>
<circle cx="1358.5" cy="804.5" r="9.4" fill="#fff" stroke="#9C27B0" stroke-width="1.5"/>
<polyline points="1361.3,799.6 1354.9,804.5 1362.0,804.3 1355.8,809.3" fill="none" stroke="#9C27B0" stroke-width="1.6" stroke-linecap="round" stroke-linejoin="round"/>
<g fill="#111">
<path d="M12,871.1 H23.8 V885.8 H18.1 V876.7 H12 Z"/>
<circle cx="28.95" cy="873.9" r="2.85"/>
<path d="M35.2,871.1 H41.8 L36.0,885.8 H29.1 Z"/>
</g>
<text x="49.1" y="885.8" font-size="20" font-weight="bold" fill="#111" textLength="120.5" lengthAdjust="spacingAndGlyphs">TradingView</text>
</svg></body></html>
